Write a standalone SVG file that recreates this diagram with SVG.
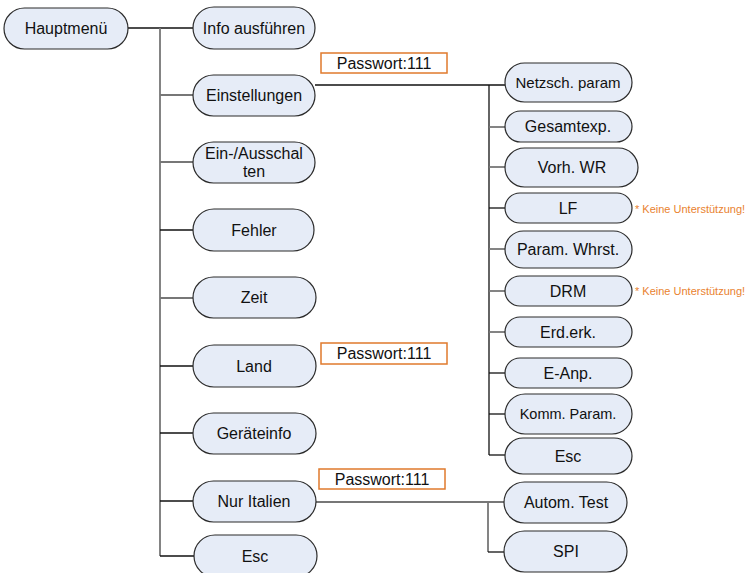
<svg xmlns="http://www.w3.org/2000/svg" width="747" height="573" viewBox="0 0 747 573">
<style>
.n{fill:#E6ECF7;stroke:#2b2b2b;stroke-width:1.2}
.t{font-family:"Liberation Sans",Arial,sans-serif;font-size:16px;fill:#111;text-anchor:middle}
.c{fill:none;stroke:#111;stroke-width:1.3}
.g{fill:none;stroke:#777;stroke-width:1.8}
.pw{fill:#fff;stroke:#E07A2C;stroke-width:1.5}
.note{font-family:"Liberation Sans",Arial,sans-serif;font-size:11px;fill:#E9822F}
</style>
<rect width="747" height="573" fill="#fff"/>
<g id="connectors">
<path class="c" d="M128 28H193"/>
<path class="g" d="M160 28V556"/>
<path class="g" d="M160 95H193"/>
<path class="g" d="M160 162H193"/>
<path class="c" d="M160 230H193"/>
<path class="g" d="M160 298H193"/>
<path class="c" d="M160 366H193"/>
<path class="c" d="M160 433H193"/>
<path class="c" d="M160 501H193"/>
<path class="c" d="M160 556H194"/>
<path class="c" d="M315 85H505"/>
<path class="c" d="M489 85V455"/>
<path class="g" d="M489 127H505"/>
<path class="g" d="M489 167H505"/>
<path class="c" d="M489 208H505"/>
<path class="g" d="M489 249H505"/>
<path class="g" d="M489 291H505"/>
<path class="g" d="M489 332H505"/>
<path class="c" d="M489 373H505"/>
<path class="c" d="M489 414H505"/>
<path class="c" d="M489 455H505"/>
<path class="g" d="M316 502H504"/>
<path class="g" d="M488 502V552"/>
<path class="c" d="M488 552H504"/>
</g>
<g id="pw1"><rect class="pw" x="321" y="53" width="126" height="20"/><text class="t" x="384" y="69">Passwort:111</text></g>
<g id="pw2"><rect class="pw" x="321" y="343" width="126" height="21"/><text class="t" x="384" y="359">Passwort:111</text></g>
<g id="pw3"><rect class="pw" x="319" y="469" width="126" height="20"/><text class="t" x="382" y="485">Passwort:111</text></g>
<g id="hauptmenu"><rect class="n" x="4" y="8" width="124" height="41" rx="20.5"/><text class="t" x="66" y="34">Hauptmenü</text></g>
<g id="info"><rect class="n" x="193" y="7" width="122" height="42" rx="21"/><text class="t" x="254" y="34">Info ausführen</text></g>
<g id="einstellungen"><rect class="n" x="193" y="75" width="122" height="41" rx="20.5"/><text class="t" x="254" y="101">Einstellungen</text></g>
<g id="einaus"><rect class="n" x="193" y="142" width="122" height="41" rx="20.5"/><text class="t" x="254" y="159">Ein-/Ausschal</text><text class="t" x="254" y="177">ten</text></g>
<g id="fehler"><rect class="n" x="193" y="209" width="121" height="42" rx="21"/><text class="t" x="254" y="236">Fehler</text></g>
<g id="zeit"><rect class="n" x="193" y="277" width="123" height="41" rx="20.5"/><text class="t" x="254" y="303">Zeit</text></g>
<g id="land"><rect class="n" x="193" y="345" width="123" height="42" rx="21"/><text class="t" x="254" y="372">Land</text></g>
<g id="geraeteinfo"><rect class="n" x="193" y="413" width="123" height="41" rx="20.5"/><text class="t" x="254" y="439">Geräteinfo</text></g>
<g id="nuritalien"><rect class="n" x="193" y="481" width="123" height="41" rx="20.5"/><text class="t" x="254" y="507">Nur Italien</text></g>
<g id="esc1"><rect class="n" x="194" y="535" width="123" height="42" rx="21"/><text class="t" x="255" y="562">Esc</text></g>
<g id="netzsch"><rect class="n" x="505" y="63" width="127" height="39" rx="19.5"/><text class="t" x="568" y="88" style="font-size:15px">Netzsch. param</text></g>
<g id="gesamtexp"><rect class="n" x="505" y="111" width="127" height="31" rx="15.5"/><text class="t" x="568" y="132">Gesamtexp.</text></g>
<g id="vorh"><rect class="n" x="505" y="148" width="133" height="39" rx="19.5"/><text class="t" x="572" y="173">Vorh. WR</text></g>
<g id="lf"><rect class="n" x="505" y="193" width="127" height="30" rx="15"/><text class="t" x="568" y="214">LF</text></g>
<g id="paramwhrst"><rect class="n" x="505" y="231" width="127" height="37" rx="18.5"/><text class="t" x="568" y="255">Param. Whrst.</text></g>
<g id="drm"><rect class="n" x="505" y="276" width="127" height="30" rx="15"/><text class="t" x="568" y="297">DRM</text></g>
<g id="erderk"><rect class="n" x="505" y="317" width="127" height="30" rx="15"/><text class="t" x="568" y="338">Erd.erk.</text></g>
<g id="eanp"><rect class="n" x="505" y="358" width="127" height="30" rx="15"/><text class="t" x="568" y="379">E-Anp.</text></g>
<g id="komm"><rect class="n" x="505" y="394" width="127" height="40" rx="20"/><text class="t" x="568" y="419" style="font-size:14.5px">Komm. Param.</text></g>
<g id="esc2"><rect class="n" x="505" y="438" width="127" height="36" rx="18"/><text class="t" x="568" y="462">Esc</text></g>
<g id="automtest"><rect class="n" x="504" y="482" width="123" height="41" rx="20.5"/><text class="t" x="566" y="508">Autom. Test</text></g>
<g id="spi"><rect class="n" x="504" y="531" width="123" height="41" rx="20.5"/><text class="t" x="566" y="557">SPI</text></g>
<text class="note" x="635" y="213">* Keine Unterstützung!</text>
<text class="note" x="635" y="295">* Keine Unterstützung!</text>
</svg>
